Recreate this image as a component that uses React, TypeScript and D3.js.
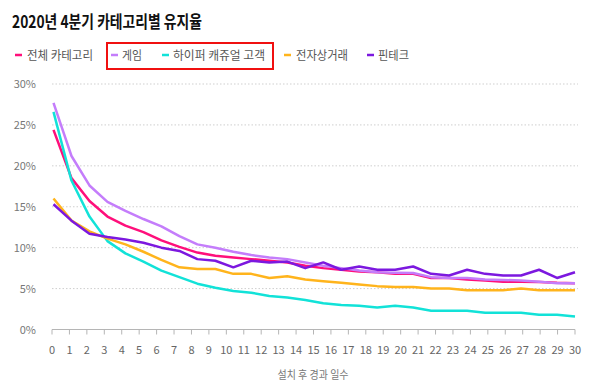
import React from "react";
import * as d3 from "d3";

// 설치 후 경과 일수 (axis ticks) and retention values (%) per category
const dayTicks = d3.range(0, 31);
const yTicks = [0, 5, 10, 15, 20, 25, 30];

const seriesNames = ["전체 카테고리", "게임", "하이퍼 캐쥬얼 고객", "전자상거래", "핀테크"];
const seriesColors = ["#ff0f7b", "#c47dfb", "#12e2d8", "#ffb41c", "#7c18df"];

const total = [24.4, 18.5, 15.7, 13.8, 12.7, 11.9, 10.9, 10.1, 9.4, 9.0, 8.8, 8.6, 8.4, 8.2, 7.8, 7.5, 7.3, 7.1, 7.0, 6.8, 6.8, 6.3, 6.3, 6.1, 6.0, 5.85, 5.85, 5.8, 5.7, 5.65];
const game = [27.7, 21.2, 17.6, 15.6, 14.5, 13.5, 12.6, 11.4, 10.4, 10.0, 9.5, 9.1, 8.8, 8.6, 8.2, 7.8, 7.5, 7.2, 7.0, 6.95, 6.9, 6.4, 6.3, 6.3, 6.1, 6.05, 6.0, 5.85, 5.65, 5.65];
const hyperCasual = [26.6, 18.2, 13.8, 10.8, 9.3, 8.3, 7.2, 6.4, 5.6, 5.1, 4.7, 4.5, 4.1, 3.9, 3.6, 3.2, 3.0, 2.9, 2.7, 2.9, 2.7, 2.3, 2.3, 2.3, 2.05, 2.05, 2.05, 1.8, 1.8, 1.6];
const commerce = [16.0, 13.3, 12.0, 11.1, 10.4, 9.5, 8.5, 7.6, 7.4, 7.4, 6.8, 6.8, 6.3, 6.5, 6.1, 5.9, 5.7, 5.5, 5.3, 5.2, 5.2, 5.0, 5.0, 4.8, 4.8, 4.8, 5.0, 4.8, 4.8, 4.8];
const fintech = [15.3, 13.3, 11.7, 11.3, 11.0, 10.6, 10.0, 9.6, 8.6, 8.4, 7.6, 8.4, 8.2, 8.3, 7.5, 8.2, 7.3, 7.7, 7.3, 7.3, 7.7, 6.8, 6.6, 7.3, 6.8, 6.6, 6.6, 7.3, 6.3, 7.0];

const allSeries = [total, game, hyperCasual, commerce, fintech];

const FONT = "'Noto Sans CJK KR', 'Noto Sans', sans-serif";

// legend: dash x, text x, text width
const legendPos = [
  { dx: 15, tx: 27, tw: 66 },
  { dx: 111, tx: 122, tw: 20 },
  { dx: 162, tx: 173, tw: 92 },
  { dx: 284, tx: 296, tw: 52 },
  { dx: 367, tx: 378, tw: 31 },
];

export default function App() {
  const x = d3.scaleLinear().domain([0, 30]).range([52, 575]);
  const xp = d3.scaleLinear().domain([0, total.length - 1]).range([53.5, 575]);
  const y = d3.scaleLinear().domain([0, 30]).range([329.5, 84]);

  const line = d3
    .line<number>()
    .x((d, i) => xp(i))
    .y(d => y(d));

  return (
    <svg
      width={600}
      height={388}
      style={{ position: "absolute", left: 0, top: 0, background: "#fff" }}
    >
      <text
        x={12}
        y={28}
        fontFamily={FONT}
        fontWeight={700}
        fontSize={17}
        fill="#111"
        textLength={190}
        lengthAdjust="spacingAndGlyphs"
      >
        2020년 4분기 카테고리별 유지율
      </text>

      {seriesNames.map((name, i) => (
        <g key={name}>
          <line
            x1={legendPos[i].dx}
            x2={legendPos[i].dx + 7}
            y1={55}
            y2={55}
            stroke={seriesColors[i]}
            strokeWidth={2.5}
          />
          <text
            x={legendPos[i].tx}
            y={59.5}
            fontFamily={FONT}
            fontSize={12.5}
            fill="#555"
            textLength={legendPos[i].tw}
            lengthAdjust="spacingAndGlyphs"
          >
            {name}
          </text>
        </g>
      ))}
      <rect x={107} y={43} width={166} height={26} fill="none" stroke="#f01010" strokeWidth={2} />

      {yTicks.map(t => (
        <g key={t}>
          {t > 0 && (
            <line
              x1={52}
              x2={578}
              y1={y(t)}
              y2={y(t)}
              stroke="#cfcfcf"
              strokeWidth={1}
              strokeDasharray="1.5,2"
            />
          )}
          <text
            x={36}
            y={y(t) + 4}
            textAnchor="end"
            fontFamily={FONT}
            fontSize={11}
            fill="#777"
          >
            {t}%
          </text>
        </g>
      ))}

      <line x1={52} x2={575} y1={y(0)} y2={y(0)} stroke="#b5b5b5" strokeWidth={1} />
      {dayTicks.map(d => (
        <g key={d}>
          <line x1={x(d)} x2={x(d)} y1={y(0)} y2={y(0) + 5} stroke="#b5b5b5" strokeWidth={1} />
          <text
            x={x(d)}
            y={354}
            textAnchor="middle"
            fontFamily={FONT}
            fontSize={11}
            fill="#666"
          >
            {d}
          </text>
        </g>
      ))}
      <text
        x={313}
        y={379}
        textAnchor="middle"
        fontFamily={FONT}
        fontSize={11}
        fill="#777"
        textLength={71}
        lengthAdjust="spacingAndGlyphs"
      >
        설치 후 경과 일수
      </text>

      {allSeries.map((s, i) => (
        <path
          key={seriesNames[i]}
          d={line(s) || ""}
          fill="none"
          stroke={seriesColors[i]}
          strokeWidth={2.5}
          strokeLinejoin="round"
        />
      ))}
    </svg>
  );
}
